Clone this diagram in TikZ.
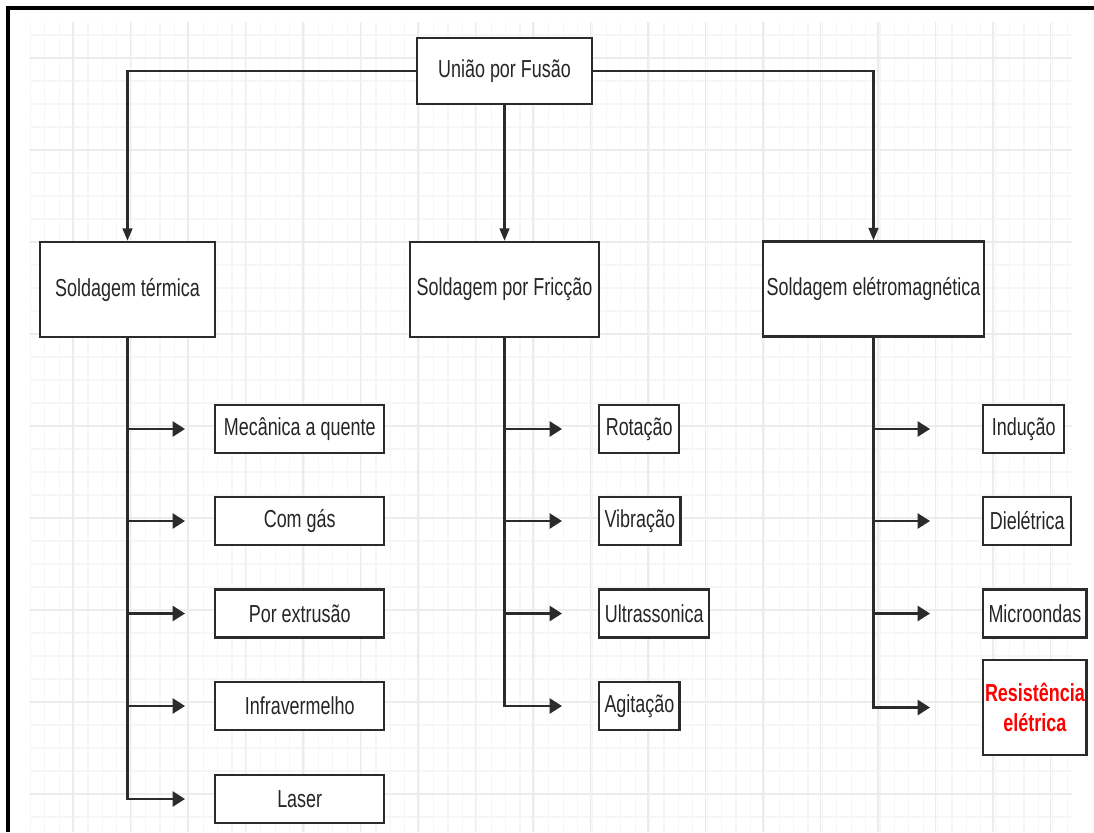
\documentclass[tikz,border=0pt]{standalone}
\usepackage{fontspec}
\setmainfont[FakeStretch=0.73]{Liberation Sans}
\usetikzlibrary{arrows.meta}
\definecolor{linegray}{HTML}{2B2B2B}
\definecolor{gridminor}{HTML}{F6F6F6}
\definecolor{gridmajor}{HTML}{ECECEC}

\begin{document}
\begin{tikzpicture}[x=0.02cm, y=-0.02cm,
		every node/.style={fill=white, font=\fontsize{14}{16}\selectfont, text=black!85},
		box/.style={draw=linegray, line width=1.4pt, minimum height=1.9cm, inner sep=2pt},
		sub/.style={draw=linegray, line width=1.4pt, minimum height=0.96cm, inner xsep=3pt, anchor=west},
		down/.style={draw=linegray, line width=1.3pt, -{Triangle[length=7pt, width=5.5pt]}},
		arr/.style={draw=linegray, line width=1.4pt, -{Triangle[length=7pt, width=8.5pt]}}]
	\useasboundingbox (0,0) rectangle (1094,832);

	% grid
	\foreach \gx in {30.4,44.8,...,1070} \draw[gridminor, line width=0.6pt] (\gx,22) -- (\gx,832);
	\foreach \gy in {35,58,...,832} \draw[gridminor, line width=0.6pt] (30,\gy) -- (1072,\gy);
	\foreach \gx in {73,130.5,...,1070} \draw[gridmajor, line width=0.8pt] (\gx,22) -- (\gx,832);
	\foreach \gy in {58,150,...,832} \draw[gridmajor, line width=0.8pt] (30,\gy) -- (1072,\gy);
	\draw[line width=1.8pt] (8,832) -- (8,8) -- (1094,8);

	\node[box, minimum width=3.5cm, minimum height=1.32cm] (uniao) at (504.5,71) {União por Fusão};
	\node[box, minimum width=3.5cm] (termica) at (127.5,289.5) {Soldagem térmica};
	\node[box, minimum width=3.78cm] (friccao) at (504.5,289.5) {Soldagem por Fricção};
	\node[box, minimum width=4.34cm] (eletro) at (873.5,289) {Soldagem elétromagnética};

	\node[sub, minimum width=3.38cm] (mecanica) at (214,429) {Mecânica a quente};
	\node[sub, minimum width=3.38cm] (gas) at (214,521) {Com gás};
	\node[sub, minimum width=3.38cm] (extrusao) at (214,613.5) {Por extrusão};
	\node[sub, minimum width=3.38cm] (infra) at (214,706) {Infravermelho};
	\node[sub, minimum width=3.38cm] (laser) at (214,799) {Laser};

	\node[sub, minimum width=1.6cm] (rotacao) at (598,429) {Rotação};
	\node[sub, minimum width=1.6cm] (vibracao) at (598,521) {Vibração};
	\node[sub, minimum width=2.2cm] (ultra) at (598,613.5) {Ultrassonica};
	\node[sub, minimum width=1.6cm] (agitacao) at (598,706) {Agitação};

	\node[sub, minimum width=1.62cm] (inducao) at (982,429) {Indução};
	\node[sub, minimum width=1.76cm] (dieletrica) at (982,521) {Dielétrica};
	\node[sub, minimum width=2.04cm] (micro) at (982,613.5) {Microondas};
	\node[sub, minimum width=2.04cm, minimum height=1.9cm, inner xsep=1pt, align=center, text=red, font=\fontsize{14}{17}\selectfont\bfseries] (resist) at (982,707.5) {Resistência\\elétrica};

	\draw[down] (uniao.west) -| (termica.north);
	\draw[down] (uniao.south) -- (friccao.north);
	\draw[down] (uniao.east) -| (eletro.north);

	\draw[arr, shorten >=0.58cm] (termica.south) |- (mecanica.west);
	\draw[arr, shorten >=0.58cm] (termica.south) |- (gas.west);
	\draw[arr, shorten >=0.58cm] (termica.south) |- (extrusao.west);
	\draw[arr, shorten >=0.58cm] (termica.south) |- (infra.west);
	\draw[arr, shorten >=0.58cm] (termica.south) |- (laser.west);

	\draw[arr, shorten >=0.72cm] (friccao.south) |- (rotacao.west);
	\draw[arr, shorten >=0.72cm] (friccao.south) |- (vibracao.west);
	\draw[arr, shorten >=0.72cm] (friccao.south) |- (ultra.west);
	\draw[arr, shorten >=0.72cm] (friccao.south) |- (agitacao.west);

	\draw[arr, shorten >=1.04cm] (eletro.south) |- (inducao.west);
	\draw[arr, shorten >=1.04cm] (eletro.south) |- (dieletrica.west);
	\draw[arr, shorten >=1.04cm] (eletro.south) |- (micro.west);
	\draw[arr, shorten >=1.04cm] (eletro.south) |- (resist.west);
\end{tikzpicture}
\end{document}
